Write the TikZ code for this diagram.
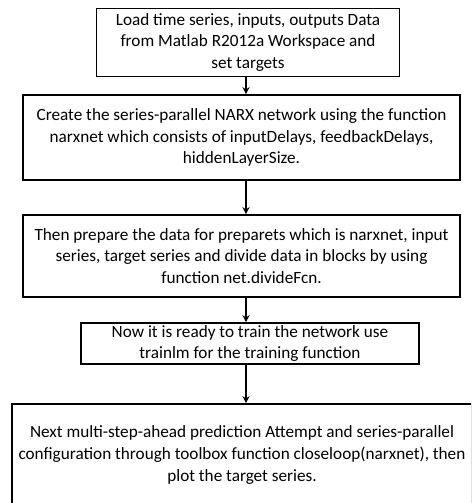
\documentclass[tikz,border=0pt]{standalone}
\usepackage{fontspec}
\setmainfont{Carlito}
\usetikzlibrary{arrows.meta}
\begin{document}
\begin{tikzpicture}[x=1pt,y=-1pt,
  stepbox/.style={draw, line width=1.6pt, align=center, inner sep=0pt,
    font=\fontsize{17.2}{21.6}\selectfont},
  flow/.style={line width=1.6pt, -{Stealth[length=7pt,width=7pt]}}]
\clip (0,0) rectangle (471,503);
\fill[white] (0,0) rectangle (471,503);

\node[stepbox, minimum width=303pt, minimum height=68pt] (b1) at (248,42.5)
  {Load time series, inputs, outputs Data\\from Matlab R2012a Workspace and\\set targets};
\node[stepbox, minimum width=437pt, minimum height=85pt] (b2) at (241.5,137.5)
  {Create the series-parallel NARX network using the function\\narxnet which consists of inputDelays, feedbackDelays,\\hiddenLayerSize.};
\node[stepbox, minimum width=437pt, minimum height=82pt] (b3) at (241.5,256)
  {Then prepare the data for preparets which is narxnet, input\\series, target series and divide data in blocks by using\\function net.divideFcn.};
\node[stepbox, minimum width=338pt, minimum height=41pt] (b4) at (250,343.5)
  {Now it is ready to train the network use\\trainlm for the training function};
\node[stepbox, minimum width=460pt, minimum height=102pt] (b5) at (242,455)
  {Next multi-step-ahead prediction Attempt and series-parallel\\configuration through toolbox function closeloop(narxnet), then\\plot the target series.};

\coordinate (ax) at (246,0);
\draw[flow] (b1.south -| ax) -- (b2.north -| ax);
\draw[flow] (b2.south -| ax) -- (b3.north -| ax);
\draw[flow] (b3.south -| ax) -- (b4.north -| ax);
\draw[flow] (b4.south -| ax) -- (b5.north -| ax);
\end{tikzpicture}
\end{document}
